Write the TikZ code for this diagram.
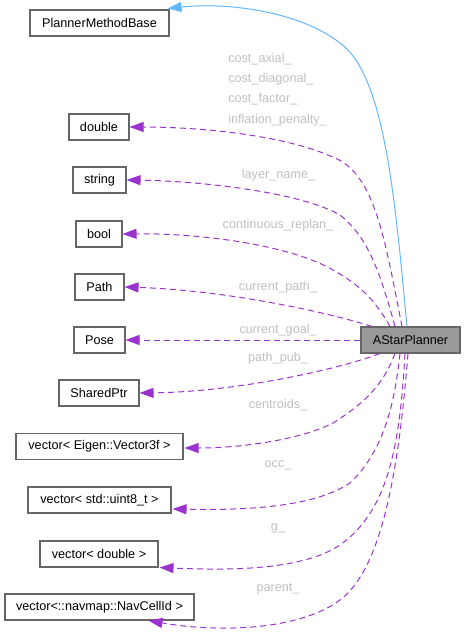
\documentclass[tikz,border=0pt]{standalone}
\usepackage{fontspec}
\setmainfont{Liberation Sans}
\usetikzlibrary{arrows.meta,calc}
\definecolor{edgepurple}{HTML}{9A32CD}
\definecolor{edgeblue}{HTML}{63B8FF}
\definecolor{boxborder}{HTML}{666666}
\definecolor{labelgray}{HTML}{C0C0C0}
\definecolor{mainfill}{HTML}{999999}
\tikzset{
  box/.style={draw=boxborder, line width=0.8pt, fill=white, rectangle, inner sep=0pt,
    minimum height=19.5pt, font=\fontsize{9.5}{11}\selectfont},
  mainbox/.style={box, fill=mainfill},
  member/.style={draw=edgepurple, line width=0.75pt, dash pattern=on 4.5pt off 3pt,
    -{Triangle[length=10.5pt,width=7.5pt]}},
  inherit/.style={draw=edgeblue, line width=0.75pt,
    -{Triangle[length=10.5pt,width=7.5pt]}},
  lbl/.style={text=labelgray, inner sep=0pt, font=\fontsize{9.5}{11}\selectfont}
}
\begin{document}
\begin{tikzpicture}[x=0.75pt,y=-0.75pt]
\useasboundingbox (0,0) rectangle (465,636);
% nodes
\node[box, minimum width=104.25pt] (pmb) at (99.5,23) {PlannerMethodBase};
\node[box, minimum width=45pt] (dbl) at (99,127) {double};
\node[box, minimum width=39.75pt] (str) at (99.5,180) {string};
\node[box, minimum width=34.5pt] (bool) at (99,234) {bool};
\node[box, minimum width=36.75pt] (path) at (99.5,287) {Path};
\node[box, minimum width=38.25pt] (pose) at (99.5,340) {Pose};
\node[box, minimum width=60pt] (sptr) at (99,393) {SharedPtr};
\node[box, minimum width=125.25pt] (veig) at (99.5,446.5) {vector< Eigen::Vector3f >};
\node[box, minimum width=107.25pt] (vu8) at (99.5,500) {vector< std::uint8\_t >};
\node[box, minimum width=88.5pt] (vdbl) at (99,554) {vector< double >};
\node[box, minimum width=141.75pt] (vnav) at (99.5,607) {vector<::navmap::NavCellId >};
\node[mainbox, minimum width=74.25pt] (astar) at (410.5,340) {AStarPlanner};
% inheritance
\draw[inherit] ($(astar.north)+(-3.5,0)$) .. controls (395,200) and (385,75) .. (340,43)
  .. controls (300,12) and (230,2) .. ($(pmb.north east)+(-2,-1)$);
% members
\draw[member] ($(astar.north)+(-8.5,0)$) .. controls (385,240) and (375,175) .. (335,158)
  .. controls (285,135) and (200,127) .. (dbl.east);
\draw[member] ($(astar.north)+(-15.5,0)$) .. controls (380,272) and (368,237) .. (340,215)
  .. controls (300,192) and (200,181) .. (str.east);
\draw[member] ($(astar.north)+(-20.5,0)$) .. controls (375,300) and (360,285) .. (333,270)
  .. controls (290,245) and (200,233) .. (bool.east);
\draw[member] ($(astar.north)+(-38.5,0)$) .. controls (320,310) and (220,290) .. (path.east);
\draw[member] (astar.west) -- (pose.east);
\draw[member] ($(astar.south)+(-30.5,0)$) .. controls (330,372) and (230,392) .. (sptr.east);
\draw[member] ($(astar.south)+(-15.5,0)$) .. controls (385,380) and (370,400) .. (333,423)
  .. controls (300,440) and (240,448) .. ($(veig.east)+(1,1.5)$);
\draw[member] ($(astar.south)+(-10.5,0)$) .. controls (395,400) and (385,450) .. (350,483)
  .. controls (310,510) and (230,510) .. ($(vu8.east)+(1,9)$);
\draw[member] ($(astar.south)+(-5.5,0)$) .. controls (400,440) and (390,510) .. (340,545)
  .. controls (300,572) and (220,570) .. ($(vdbl.south east)+(1,0)$);
\draw[member] ($(astar.south)+(-2.5,0)$) .. controls (398,480) and (380,570) .. (340,600)
  .. controls (300,630) and (220,633) .. ($(vnav.south)+(49,0)$);
% labels
\node[lbl, anchor=west] (l1) at (228,59) {cost\_axial\_};
\node[lbl, anchor=west] (l2) at (228,79) {cost\_diagonal\_};
\node[lbl, anchor=west] (l3) at (228,99.5) {cost\_factor\_};
\node[lbl, anchor=west] (l4) at (228,120) {inflation\_penalty\_};
\node[lbl] (l5) at (278.5,175) {layer\_name\_};
\node[lbl] (l6) at (278,225) {continuous\_replan\_};
\node[lbl] (l7) at (278,287) {current\_path\_};
\node[lbl] (l8) at (278,330) {current\_goal\_};
\node[lbl] (l9) at (278,358) {path\_pub\_};
\node[lbl] (l10) at (278,405) {centroids\_};
\node[lbl] (l11) at (278,465) {occ\_};
\node[lbl] (l12) at (278,528) {g\_};
\node[lbl] (l13) at (278,589) {parent\_};
\end{tikzpicture}
\end{document}
